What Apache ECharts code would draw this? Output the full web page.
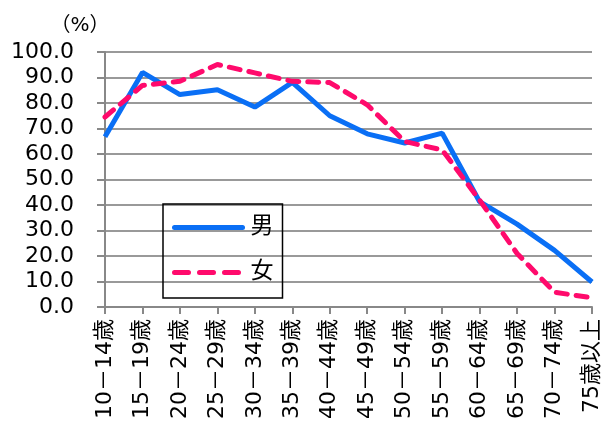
<!DOCTYPE html>
<html>
<head>
<meta charset="utf-8">
<script src="https://cdn.jsdelivr.net/npm/echarts@6/dist/echarts.min.js"></script>
<style>
  html, body { margin: 0; padding: 0; background: #fff; }
  #main { width: 603px; height: 429px; }
</style>
</head>
<body>
<div id="main"></div>
<script>
var categories = ['10－14歳', '15－19歳', '20－24歳', '25－29歳', '30－34歳', '35－39歳', '40－44歳',
    '45－49歳', '50－54歳', '55－59歳', '60－64歳', '65－69歳', '70－74歳', '75歳以上'];
var maleValues = [66.8, 92.0, 83.3, 85.2, 78.4, 88.1, 75.0, 67.9, 64.3, 68.2, 41.3, 32.5, 22.2, 9.8];
var femaleValues = [74.5, 86.9, 88.5, 95.1, 91.8, 88.5, 88.0, 79.3, 64.9, 61.6, 41.9, 21.0, 5.8, 3.6];
var yTicks = [0, 100, 10];

var font = '"DejaVu Sans", "Noto Sans CJK JP", sans-serif';
var chart = echarts.init(document.getElementById('main'));

var option = {
    animation: false,
    grid: { left: 105, right: 9, top: 52, bottom: 122 },
    legend: {
        orient: 'vertical',
        left: 163,
        top: 204,
        padding: [12, 9, 14, 9],
        itemGap: 22,
        itemWidth: 68,
        itemHeight: 14,
        borderColor: '#000',
        borderWidth: 1.5,
        itemStyle: { color: 'rgba(0,0,0,0)', borderWidth: 0 },
        lineStyle: { width: 5, cap: 'round' },
        textStyle: { fontFamily: font, fontSize: 23, color: '#000', padding: [0, 0, 0, 3] },
        data: [
            { name: '男' },
            { name: '女', lineStyle: { type: [14, 11] } }
        ]
    },
    xAxis: {
        type: 'category',
        boundaryGap: false,
        data: categories,
        axisLine: { lineStyle: { color: '#888', width: 2 } },
        axisTick: { length: 7, lineStyle: { color: '#888', width: 2 } },
        axisLabel: { rotate: 90, fontFamily: font, fontSize: 22, color: '#000', margin: 12, interval: 0 }
    },
    yAxis: {
        type: 'value',
        min: yTicks[0],
        max: yTicks[1],
        interval: yTicks[2],
        name: '（%）',
        nameGap: 16,
        nameTextStyle: { fontFamily: font, fontSize: 20, color: '#000', align: 'center', padding: [0, 50, 0, 0] },
        axisLine: { show: true, lineStyle: { color: '#888', width: 2 } },
        axisTick: { show: true, length: 8, lineStyle: { color: '#888', width: 2 } },
        splitLine: { lineStyle: { color: '#999', width: 2 } },
        axisLabel: {
            fontFamily: font, fontSize: 22, color: '#000', margin: 31,
            formatter: function (v) { return v.toFixed(1); }
        }
    },
    series: [
        {
            name: '男',
            type: 'line',
            data: maleValues,
            symbol: 'none',
            itemStyle: { color: '#0a6ff5' },
            lineStyle: { color: '#0a6ff5', width: 5 }
        },
        {
            name: '女',
            type: 'line',
            data: femaleValues,
            symbol: 'none',
            itemStyle: { color: '#ff0a6c' },
            lineStyle: { color: '#ff0a6c', width: 5, type: [11, 9], cap: 'round' }
        }
    ]
};

chart.setOption(option);
</script>
</body>
</html>
